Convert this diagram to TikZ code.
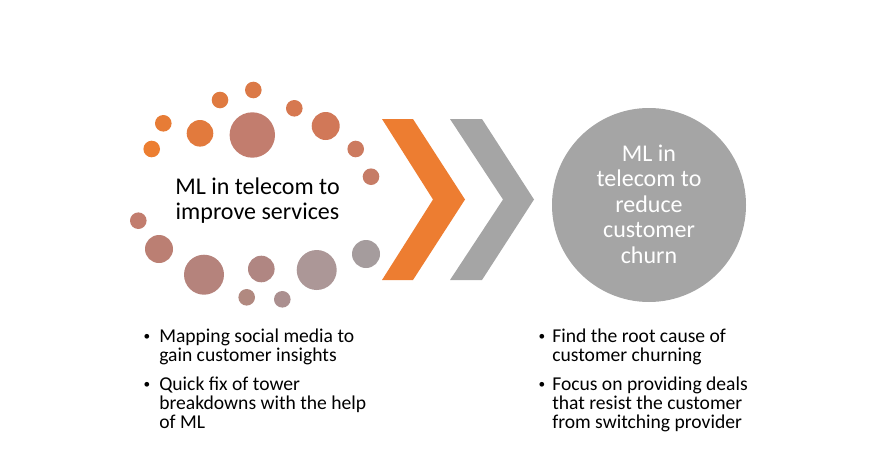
\documentclass[tikz,border=0pt]{standalone}
\usepackage{fontspec}
\setmainfont{Carlito}
\definecolor{chevorange}{HTML}{ED7D31}
\definecolor{chevgray}{HTML}{A5A5A5}
\tikzset{
  bigtext/.style={font=\fontsize{18}{19.1}\selectfont, align=center, anchor=base, inner sep=0pt},
  listtext/.style={font=\fontsize{14.7}{14.25}\selectfont, align=left, anchor=base west, inner sep=0pt},
  bulletmark/.style={font=\fontsize{10}{12}\selectfont, anchor=base, inner sep=0pt},
}

\begin{document}
\begin{tikzpicture}[x=0.75pt, y=-0.75pt]
  \useasboundingbox (0,0) rectangle (892,475);

  % ring of dots
  \foreach \px/\py/\pr/\pc in {151.7/149/8.3/EC7E31, 163.3/123.3/8.3/E77C36, 200/133.3/13.3/E27A3D,
      220/100/8.3/DF7A40, 253.3/90/8.3/DB7947, 252.3/135/22.7/C27D6E, 294.3/108.3/8.3/D67850,
      325.7/126/14/D17858, 355.7/149/8.3/CC7A5F, 371/176.7/8.3/C67C66, 138.3/220.7/8.3/C27D6E,
      159/249/14/BB7F73, 204/274.7/20/B5837C, 261.3/269/13.3/B08682, 246.7/297.3/8.3/B18980,
      282.3/299.3/8.3/AB8F8F, 316.7/270/20/AC9797, 366/254/14/A59C9D} {
    \definecolor{dotfill}{HTML}{\pc}
    \fill[dotfill] (\px,\py) circle (\pr);
  }
  % base of a multi-line node = last line
  \node[bigtext] (improve) at (257.5,219.5) {ML in telecom to\\improve services};

  % chevrons
  \fill[chevorange] (382,119) -- (413,119) -- (465,199.5) -- (413,280) -- (382,280) -- (433,199.5) -- cycle;
  \fill[chevgray] (450,119) -- (482,119) -- (534,199.5) -- (482,280) -- (450,280) -- (503,199.5) -- cycle;

  \node[circle, fill=chevgray, minimum size=145.5pt, inner sep=0pt] (churn) at (649,205) {};
  \node[bigtext, text=white] (churntext) at (649,263) {ML in\\telecom to\\reduce\\customer\\churn};

  % bullet lists
  \node[bulletmark] (lb1) at (147,340) {\textbullet};
  \node[listtext] (li1) at (159,361) {Mapping social media to\\gain customer insights};
  \node[bulletmark] (lb2) at (147,388) {\textbullet};
  \node[listtext] (li2) at (159,428) {Quick fix of tower\\breakdowns with the help\\of ML};

  \node[bulletmark] (rb1) at (542,340) {\textbullet};
  \node[listtext] (ri1) at (552,361) {Find the root cause of\\customer churning};
  \node[bulletmark] (rb2) at (542,388) {\textbullet};
  \node[listtext] (ri2) at (552,428) {Focus on providing deals\\that resist the customer\\from switching provider};
\end{tikzpicture}
\end{document}
